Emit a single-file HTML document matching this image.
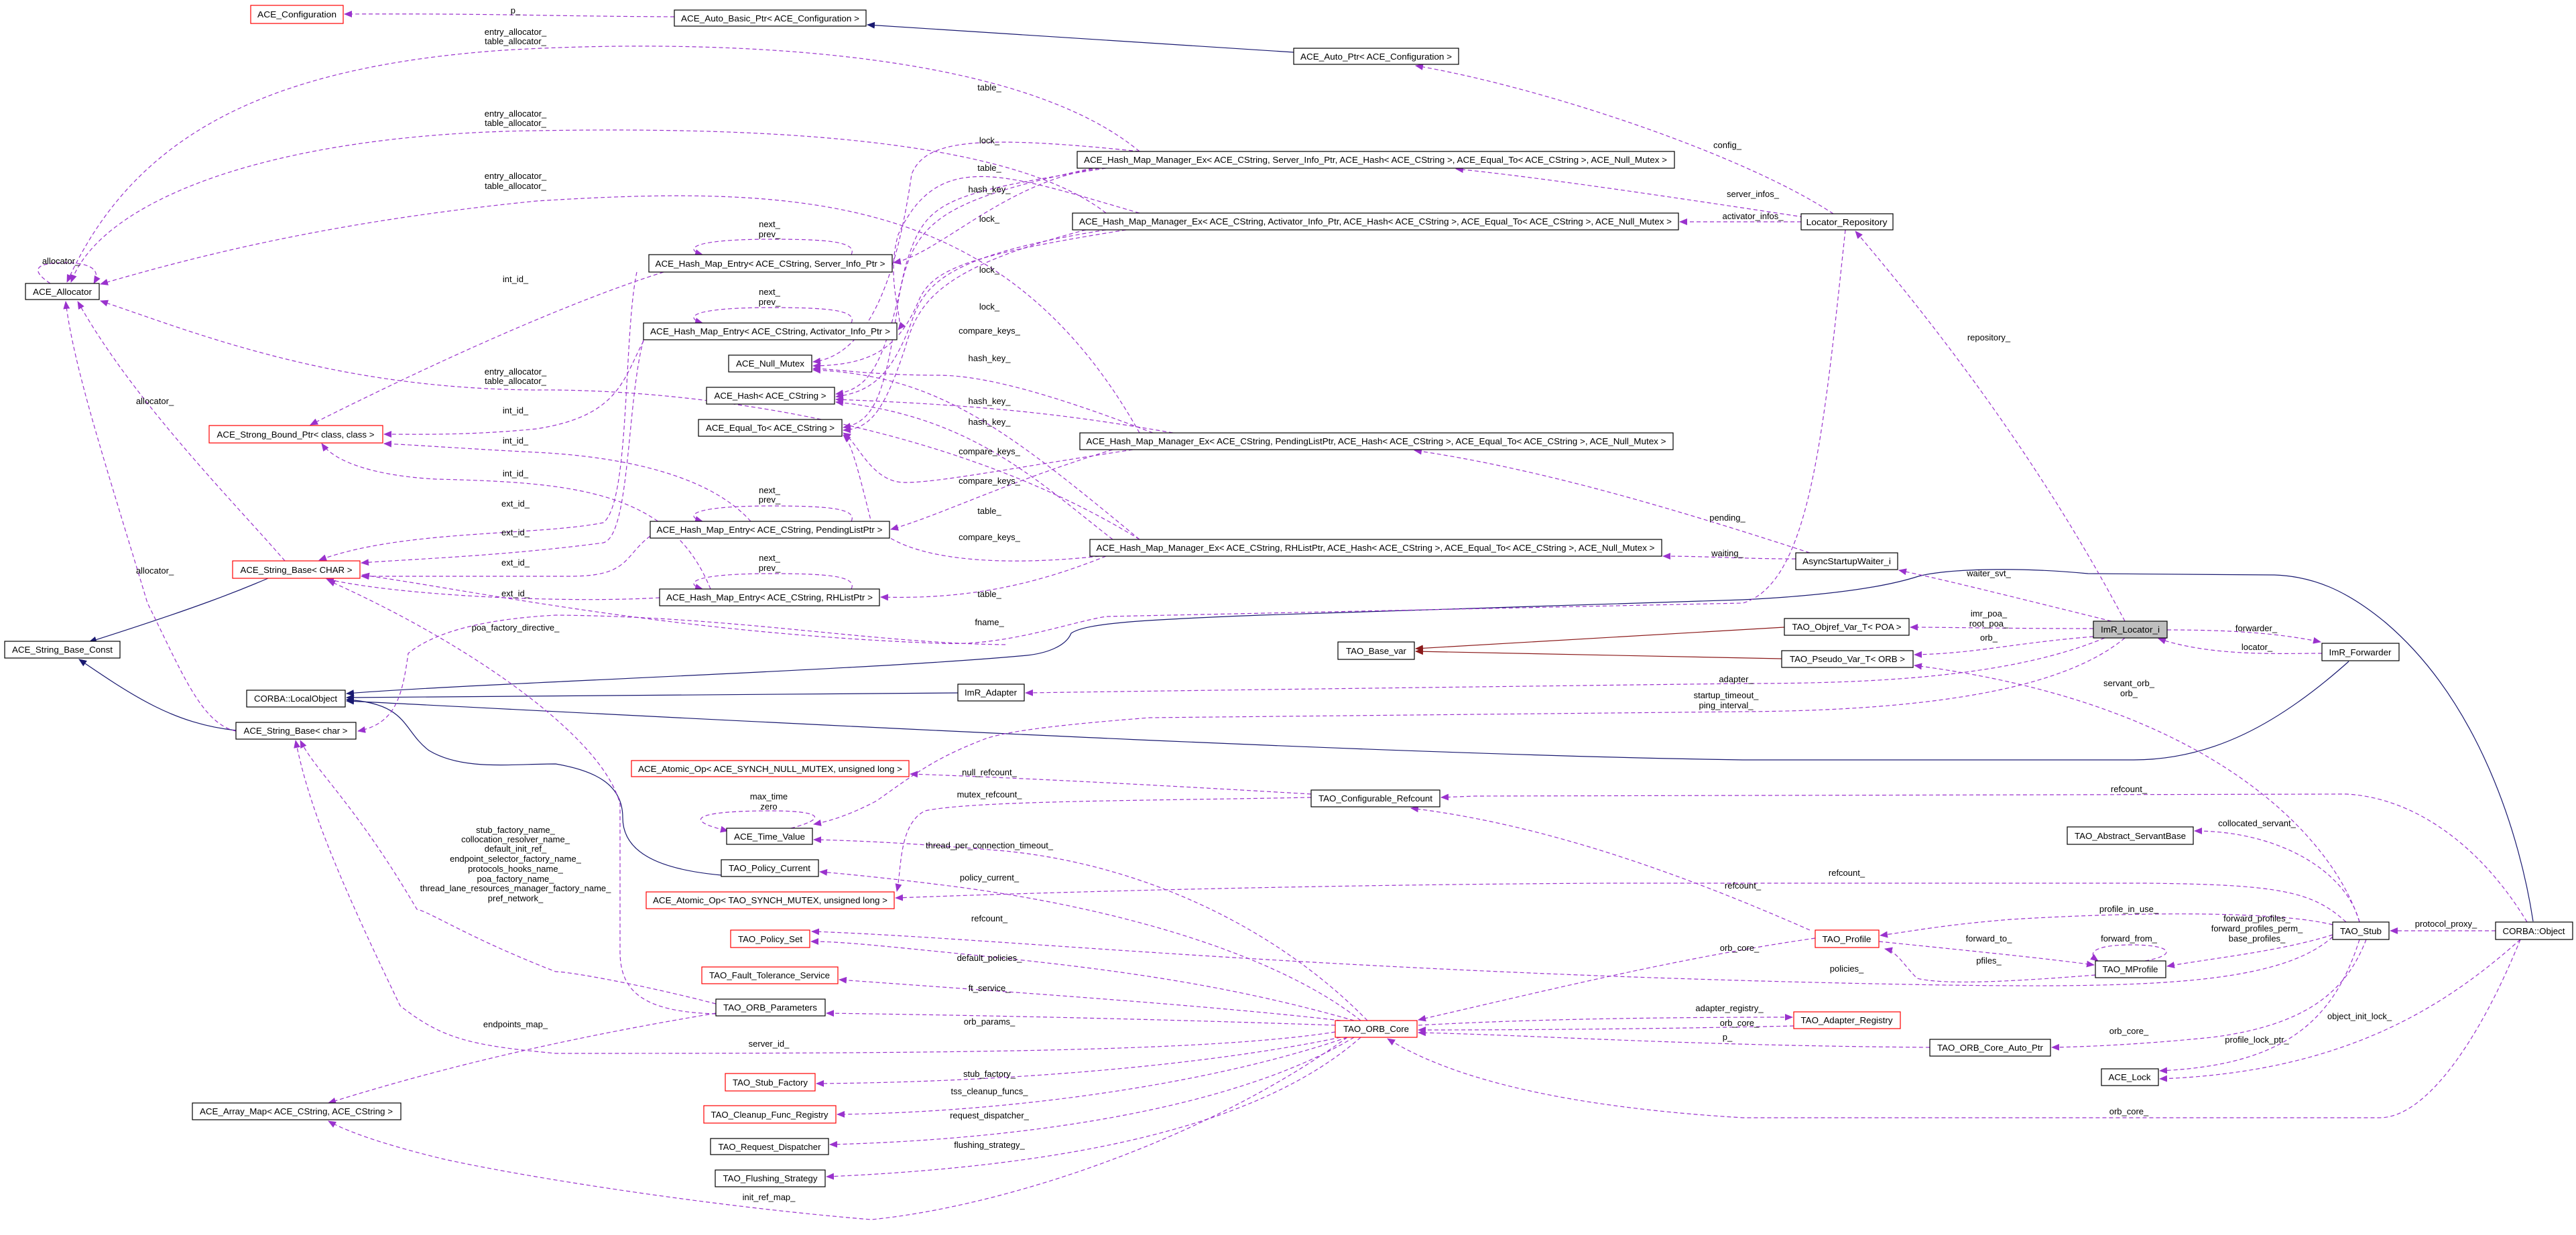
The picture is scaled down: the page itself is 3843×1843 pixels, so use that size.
<!DOCTYPE html>
<html><head><meta charset="utf-8"><style>
html,body{margin:0;padding:0;background:#fff;}
svg{display:block;}
text{font-family:"Liberation Sans",sans-serif;font-size:13px;fill:#000;}
.d{fill:none;stroke:#9a32cd;stroke-width:1.2;stroke-dasharray:6,4;marker-end:url(#p);}
.n{fill:none;stroke:#191970;stroke-width:1.2;marker-end:url(#n);}
.r{fill:none;stroke:#8b1a1a;stroke-width:1.2;marker-end:url(#r);}
.b{fill:#fff;stroke:#000;stroke-width:1.2;}
.rb{fill:#fff;stroke:#ff0000;stroke-width:1.2;}
.el{text-anchor:middle;}
</style></head><body>
<svg width="3843" height="1843" viewBox="0 0 3843 1843" xmlns="http://www.w3.org/2000/svg">
<defs>
<marker id="p" markerUnits="userSpaceOnUse" markerWidth="12" markerHeight="10" refX="11" refY="5" orient="auto"><path d="M0,0 L12,5 L0,10 z" fill="#9a32cd"/></marker>
<marker id="n" markerUnits="userSpaceOnUse" markerWidth="12" markerHeight="10" refX="11" refY="5" orient="auto"><path d="M0,0 L12,5 L0,10 z" fill="#191970"/></marker>
<marker id="r" markerUnits="userSpaceOnUse" markerWidth="12" markerHeight="10" refX="11" refY="5" orient="auto"><path d="M0,0 L12,5 L0,10 z" fill="#8b1a1a"/></marker>
</defs>

<!-- inheritance -->
<path class="n" d="M1930,78 L1294,37"/>
<path class="n" d="M400,863 C360,880 300,905 133,958"/>
<path class="n" d="M352,1090 C260,1080 200,1040 118,984"/>
<path class="n" d="M1429,1034 L517,1041"/>
<path class="n" d="M3504,987 C3400,1080 3300,1134 3183,1134 L2600,1134 C2000,1125 1000,1070 517,1046"/>
<path class="n" d="M1076,1306 C978,1297 929,1270 929,1220 C929,1170 887,1150 829,1140 C760,1140 690,1150 640,1120 C600,1090 610,1050 517,1044"/>
<path class="n" d="M3779,1375 C3760,1250 3700,1050 3560,930 C3500,880 3450,860 3393,858 L3115,856 C3000,845 2900,850 2862,860 C2800,880 2700,890 2600,895 L1880,918 C1700,925 1620,930 1598,945 C1590,965 1560,975 1532,978 C1300,1000 700,1020 517,1035"/>
<path class="r" d="M2662,936 L2112,968"/>
<path class="r" d="M2658,983 L2112,972"/>

<!-- top purple -->
<path class="d" d="M1006,25 C800,24 750,20 514,21"/>
<path class="d" d="M2735,319 C2600,230 2300,130 2112,98"/>
<path class="d" d="M2691,324 C2500,295 2300,265 2172,252"/>
<path class="d" d="M2687,331 L2506,331"/>
<path class="d" d="M2700,825 C2500,760 2300,700 2110,672"/>
<path class="d" d="M2679,834 C2600,834 2550,830 2481,830"/>
<path class="d" d="M3170,927 C3050,700 2900,500 2768,345"/>
<path class="d" d="M3150,927 C3000,890 2900,865 2833,851"/>
<path class="d" d="M2753,343 C2720,650 2700,870 2600,900 L1650,920 C1590,930 1500,965 1400,960 C1000,945 700,880 540,858"/>

<!-- allocator -->
<path class="d" d="M1700,226 C1500,60 1000,60 750,75 C400,100 200,200 100,421"/>
<path class="d" d="M1650,318 C1500,200 1100,190 800,195 C400,200 150,300 106,421"/>
<path class="d" d="M1700,646 C1500,290 1200,275 800,300 C500,330 300,380 150,424"/>
<path class="d" d="M1700,805 C1400,620 1000,580 800,582 C500,580 300,500 150,449"/>
<path class="d" d="M425,837 C350,750 200,600 116,450"/>
<path class="d" d="M352,1091 C300,1080 270,1000 220,900 C160,700 110,550 98,450"/>
<path class="d" d="M75,423 C40,400 60,392 95,392 C140,392 150,405 140,423"/>

<!-- entries self loops -->
<path class="d" d="M1270,380 C1280,360 1230,357 1150,357 C1030,357 1020,372 1048,380"/>
<path class="d" d="M1270,482 C1280,462 1230,459 1150,459 C1030,459 1020,474 1048,482"/>
<path class="d" d="M1270,778 C1280,758 1230,755 1150,755 C1030,755 1020,770 1048,778"/>
<path class="d" d="M1270,879 C1280,859 1230,856 1150,856 C1030,856 1020,871 1048,879"/>

<!-- int_id_ -->
<path class="d" d="M990,406 C850,450 650,540 463,634"/>
<path class="d" d="M965,500 C930,560 930,620 800,640 C700,650 620,648 573,648"/>
<path class="d" d="M1120,778 C1050,700 900,680 800,675 C700,670 620,664 573,662"/>
<path class="d" d="M1060,879 C1000,730 850,720 650,715 C560,710 500,690 480,662"/>

<!-- ext_id_ -->
<path class="d" d="M950,406 C930,500 940,750 900,780 C800,800 600,790 476,836"/>
<path class="d" d="M960,507 C935,600 940,800 900,810 C750,830 600,835 539,840"/>
<path class="d" d="M970,800 C930,830 940,860 850,860 L539,860"/>
<path class="d" d="M984,892 C850,900 600,890 487,864"/>

<!-- HMM internals -->
<path class="d" d="M1640,251 C1500,270 1400,380 1333,392"/>
<path class="d" d="M1700,226 C1450,200 1380,210 1360,260 C1340,400 1300,530 1213,540"/>
<path class="d" d="M1650,251 C1400,290 1380,300 1350,400 C1320,540 1300,580 1247,588"/>
<path class="d" d="M1630,251 C1400,300 1360,330 1340,450 C1320,600 1300,630 1258,638"/>
<path class="d" d="M1700,318 C1500,260 1400,220 1340,350 C1320,420 1350,480 1340,492"/>
<path class="d" d="M1680,343 C1450,380 1390,400 1370,450 C1340,520 1300,545 1213,546"/>
<path class="d" d="M1650,343 C1420,380 1380,420 1360,480 C1330,560 1300,585 1247,592"/>
<path class="d" d="M1620,343 C1400,400 1370,450 1350,520 C1320,610 1300,640 1258,642"/>
<path class="d" d="M1720,646 C1600,600 1480,560 1400,560 C1300,560 1240,550 1213,550"/>
<path class="d" d="M1750,646 C1600,620 1480,605 1247,596"/>
<path class="d" d="M1690,671 C1500,700 1400,720 1350,720 C1300,720 1280,660 1258,646"/>
<path class="d" d="M1660,671 C1500,720 1400,770 1329,790"/>
<path class="d" d="M1700,805 C1500,640 1400,560 1213,552"/>
<path class="d" d="M1660,805 C1550,720 1450,620 1247,600"/>
<path class="d" d="M1640,830 C1500,845 1350,840 1300,780 C1280,700 1270,660 1258,649"/>
<path class="d" d="M1650,830 C1550,870 1450,895 1314,891"/>

<!-- poa_factory / string base char -->
<path class="d" d="M1500,962 C1300,960 1100,920 829,918 C700,925 640,950 609,975 C600,1040 590,1080 534,1091"/>
<path class="d" d="M1068,1513 C960,1510 925,1480 925,1420 L925,1200 C900,1100 700,960 489,866"/>
<path class="d" d="M1068,1498 C960,1470 850,1450 829,1450 C700,1400 640,1360 622,1357 C530,1200 470,1150 448,1105"/>
<path class="d" d="M1992,1540 C1800,1570 1400,1572 829,1572 C700,1560 660,1550 597,1501 C500,1300 460,1200 441,1105"/>
<path class="d" d="M1068,1512 C900,1540 700,1580 490,1646"/>
<path class="d" d="M2010,1548 C1800,1700 1500,1800 1300,1820 C1078,1802 800,1760 663,1730 C580,1710 520,1690 490,1673"/>

<!-- ORB_Core fan -->
<path class="d" d="M2040,1523 C1900,1380 1700,1290 1500,1270 C1380,1260 1300,1255 1214,1253"/>
<path class="d" d="M2030,1523 C1900,1420 1650,1350 1400,1320 C1320,1310 1260,1304 1223,1301"/>
<path class="d" d="M2020,1523 C1800,1460 1600,1440 1400,1420 C1300,1410 1250,1405 1210,1405"/>
<path class="d" d="M2000,1523 C1800,1500 1500,1480 1252,1462"/>
<path class="d" d="M1992,1530 C1700,1520 1450,1515 1233,1512"/>
<path class="d" d="M2000,1548 C1800,1590 1500,1615 1218,1617"/>
<path class="d" d="M2010,1548 C1800,1620 1500,1660 1249,1663"/>
<path class="d" d="M2020,1548 C1850,1650 1550,1700 1238,1708"/>
<path class="d" d="M2030,1548 C1880,1680 1600,1740 1233,1756"/>

<!-- refcount -->
<path class="d" d="M1956,1185 C1700,1170 1500,1160 1358,1155"/>
<path class="d" d="M1956,1190 C1700,1195 1450,1195 1380,1210 C1340,1230 1345,1300 1338,1330"/>
<path class="d" d="M2700,1388 C2500,1300 2300,1230 2105,1206"/>
<path class="d" d="M3770,1376 C3700,1260 3600,1190 3500,1185 L2200,1188 L2150,1190"/>
<path class="d" d="M3500,1376 C3450,1330 3400,1320 3200,1318 L2400,1318 C2000,1320 1600,1330 1336,1340"/>
<path class="d" d="M3480,1398 C3400,1470 3200,1474 2900,1470 C2000,1455 1500,1400 1211,1390"/>
<path class="d" d="M2708,1400 C2500,1430 2300,1480 2116,1522"/>
<path class="d" d="M2676,1531 C2500,1535 2300,1537 2116,1537"/>
<path class="d" d="M2116,1530 C2300,1520 2500,1518 2674,1518"/>
<path class="d" d="M2879,1563 C2500,1560 2300,1545 2116,1541"/>
<path class="d" d="M3760,1402 C3700,1550 3620,1668 3550,1668 L2600,1668 C2300,1650 2150,1600 2070,1550"/>

<!-- stub area -->
<path class="d" d="M3480,1380 C3400,1360 3200,1360 3000,1372 C2900,1380 2850,1390 2805,1396"/>
<path class="d" d="M3480,1395 C3400,1420 3300,1430 3233,1442"/>
<path class="d" d="M2803,1405 C2950,1420 3050,1430 3124,1440"/>
<path class="d" d="M3126,1455 C3000,1465 2900,1470 2860,1460 C2840,1440 2830,1420 2812,1416"/>
<path class="d" d="M3200,1434 C3250,1425 3240,1410 3180,1410 C3130,1410 3110,1420 3130,1434"/>
<path class="d" d="M3520,1376 C3500,1300 3400,1240 3274,1240"/>
<path class="d" d="M3520,1376 C3480,1250 3300,1050 2856,993"/>
<path class="d" d="M3520,1402 C3480,1530 3400,1590 3222,1598"/>
<path class="d" d="M3530,1402 C3500,1480 3440,1530 3300,1548 C3200,1558 3120,1562 3061,1563"/>
<path class="d" d="M3760,1402 C3650,1500 3500,1600 3222,1610"/>
<path class="d" d="M3723,1389 L3566,1389"/>

<!-- locator -->
<path class="d" d="M3123,938 C3000,938 2900,936 2850,936"/>
<path class="d" d="M3123,950 C3000,960 2950,975 2856,977"/>
<path class="d" d="M3140,952 C3000,1010 2800,1020 2600,1020 C2200,1025 1800,1030 1530,1034"/>
<path class="d" d="M3170,952 C3100,1010 2950,1060 2600,1062 L1715,1071 C1600,1080 1500,1090 1466,1104 C1400,1130 1375,1147 1308,1195 C1270,1215 1240,1225 1214,1230"/>
<path class="d" d="M3233,940 C3330,940 3400,945 3462,958"/>
<path class="d" d="M3464,975 C3400,975 3300,980 3220,953"/>
<path class="d" d="M1180,1236 C1240,1220 1220,1210 1150,1210 C1030,1210 1020,1225 1086,1240"/>

<!-- nodes -->
<g>
<rect class="rb" x="374" y="8" width="138" height="27"/>
<rect class="b" x="1006" y="15" width="286" height="24"/>
<rect class="b" x="1930" y="72" width="246" height="24"/>
<rect class="b" x="1607" y="226" width="891" height="25"/>
<rect class="b" x="1600" y="318" width="904" height="25"/>
<rect class="b" x="1611" y="646" width="885" height="25"/>
<rect class="b" x="1626" y="805" width="853" height="25"/>
<rect class="b" x="2687" y="319" width="137" height="24"/>
<rect class="b" x="2679" y="825" width="152" height="25"/>
<rect class="b" x="38" y="423" width="110" height="24"/>
<rect class="b" x="968" y="380" width="363" height="26"/>
<rect class="b" x="960" y="482" width="378" height="25"/>
<rect class="b" x="1087" y="530" width="124" height="25"/>
<rect class="b" x="1054" y="578" width="191" height="25"/>
<rect class="b" x="1042" y="626" width="214" height="25"/>
<rect class="rb" x="312" y="635" width="259" height="26"/>
<rect class="b" x="970" y="778" width="357" height="25"/>
<rect class="b" x="984" y="879" width="328" height="25"/>
<rect class="rb" x="347" y="837" width="190" height="26"/>
<rect class="b" x="7" y="957" width="172" height="25"/>
<rect class="b" x="368" y="1030" width="147" height="25"/>
<rect class="b" x="352" y="1078" width="179" height="25"/>
<rect class="rb" x="942" y="1135" width="414" height="24"/>
<rect class="b" x="1084" y="1236" width="128" height="24"/>
<rect class="b" x="1076" y="1283" width="145" height="25"/>
<rect class="rb" x="964" y="1331" width="370" height="25"/>
<rect class="rb" x="1090" y="1388" width="118" height="26"/>
<rect class="rb" x="1047" y="1443" width="203" height="25"/>
<rect class="b" x="1068" y="1491" width="163" height="25"/>
<rect class="rb" x="1082" y="1602" width="134" height="26"/>
<rect class="rb" x="1050" y="1650" width="197" height="26"/>
<rect class="b" x="1060" y="1699" width="176" height="24"/>
<rect class="b" x="1067" y="1746" width="164" height="25"/>
<rect class="b" x="287" y="1646" width="311" height="25"/>
<rect class="b" x="1996" y="958" width="114" height="26"/>
<rect class="b" x="1429" y="1021" width="99" height="25"/>
<rect class="b" x="1956" y="1179" width="192" height="25"/>
<rect class="rb" x="1992" y="1523" width="122" height="25"/>
<rect class="b" x="2662" y="923" width="186" height="25"/>
<rect class="b" x="2658" y="971" width="196" height="25"/>
<rect x="3123" y="927" width="110" height="25" fill="#bfbfbf" stroke="#000" stroke-width="1.2"/>
<rect class="b" x="3464" y="960" width="115" height="26"/>
<rect class="b" x="3084" y="1234" width="188" height="26"/>
<rect class="rb" x="2708" y="1388" width="95" height="26"/>
<rect class="b" x="3126" y="1434" width="105" height="25"/>
<rect class="b" x="3480" y="1376" width="84" height="26"/>
<rect class="b" x="3723" y="1376" width="115" height="26"/>
<rect class="rb" x="2676" y="1510" width="159" height="25"/>
<rect class="b" x="2879" y="1551" width="180" height="25"/>
<rect class="b" x="3135" y="1595" width="85" height="25"/>
</g>
<g class="el">
<text x="443" y="26" textLength="118" lengthAdjust="spacingAndGlyphs">ACE_Configuration</text>
<text x="1149" y="32" textLength="266" lengthAdjust="spacingAndGlyphs">ACE_Auto_Basic_Ptr&lt; ACE_Configuration &gt;</text>
<text x="2053" y="89" textLength="226" lengthAdjust="spacingAndGlyphs">ACE_Auto_Ptr&lt; ACE_Configuration &gt;</text>
<text x="2052" y="243" textLength="870" lengthAdjust="spacingAndGlyphs">ACE_Hash_Map_Manager_Ex&lt; ACE_CString, Server_Info_Ptr, ACE_Hash&lt; ACE_CString &gt;, ACE_Equal_To&lt; ACE_CString &gt;, ACE_Null_Mutex &gt;</text>
<text x="2052" y="335" textLength="884" lengthAdjust="spacingAndGlyphs">ACE_Hash_Map_Manager_Ex&lt; ACE_CString, Activator_Info_Ptr, ACE_Hash&lt; ACE_CString &gt;, ACE_Equal_To&lt; ACE_CString &gt;, ACE_Null_Mutex &gt;</text>
<text x="2053" y="663" textLength="865" lengthAdjust="spacingAndGlyphs">ACE_Hash_Map_Manager_Ex&lt; ACE_CString, PendingListPtr, ACE_Hash&lt; ACE_CString &gt;, ACE_Equal_To&lt; ACE_CString &gt;, ACE_Null_Mutex &gt;</text>
<text x="2052" y="822" textLength="833" lengthAdjust="spacingAndGlyphs">ACE_Hash_Map_Manager_Ex&lt; ACE_CString, RHListPtr, ACE_Hash&lt; ACE_CString &gt;, ACE_Equal_To&lt; ACE_CString &gt;, ACE_Null_Mutex &gt;</text>
<text x="2755" y="336" textLength="121" lengthAdjust="spacingAndGlyphs">Locator_Repository</text>
<text x="2755" y="842" textLength="132" lengthAdjust="spacingAndGlyphs">AsyncStartupWaiter_i</text>
<text x="93" y="440" textLength="88" lengthAdjust="spacingAndGlyphs">ACE_Allocator</text>
<text x="1149" y="398" textLength="343" lengthAdjust="spacingAndGlyphs">ACE_Hash_Map_Entry&lt; ACE_CString, Server_Info_Ptr &gt;</text>
<text x="1149" y="499" textLength="358" lengthAdjust="spacingAndGlyphs">ACE_Hash_Map_Entry&lt; ACE_CString, Activator_Info_Ptr &gt;</text>
<text x="1149" y="547" textLength="102" lengthAdjust="spacingAndGlyphs">ACE_Null_Mutex</text>
<text x="1149" y="595" textLength="167" lengthAdjust="spacingAndGlyphs">ACE_Hash&lt; ACE_CString &gt;</text>
<text x="1149" y="643" textLength="192" lengthAdjust="spacingAndGlyphs">ACE_Equal_To&lt; ACE_CString &gt;</text>
<text x="441" y="653" textLength="235" lengthAdjust="spacingAndGlyphs">ACE_Strong_Bound_Ptr&lt; class, class &gt;</text>
<text x="1148" y="795" textLength="337" lengthAdjust="spacingAndGlyphs">ACE_Hash_Map_Entry&lt; ACE_CString, PendingListPtr &gt;</text>
<text x="1148" y="896" textLength="308" lengthAdjust="spacingAndGlyphs">ACE_Hash_Map_Entry&lt; ACE_CString, RHListPtr &gt;</text>
<text x="442" y="855" textLength="167" lengthAdjust="spacingAndGlyphs">ACE_String_Base&lt; CHAR &gt;</text>
<text x="93" y="974" textLength="150" lengthAdjust="spacingAndGlyphs">ACE_String_Base_Const</text>
<text x="441" y="1047" textLength="124" lengthAdjust="spacingAndGlyphs">CORBA::LocalObject</text>
<text x="441" y="1095" textLength="155" lengthAdjust="spacingAndGlyphs">ACE_String_Base&lt; char &gt;</text>
<text x="1149" y="1152" textLength="394" lengthAdjust="spacingAndGlyphs">ACE_Atomic_Op&lt; ACE_SYNCH_NULL_MUTEX, unsigned long &gt;</text>
<text x="1148" y="1253" textLength="106" lengthAdjust="spacingAndGlyphs">ACE_Time_Value</text>
<text x="1148" y="1300" textLength="122" lengthAdjust="spacingAndGlyphs">TAO_Policy_Current</text>
<text x="1149" y="1348" textLength="350" lengthAdjust="spacingAndGlyphs">ACE_Atomic_Op&lt; TAO_SYNCH_MUTEX, unsigned long &gt;</text>
<text x="1149" y="1406" textLength="96" lengthAdjust="spacingAndGlyphs">TAO_Policy_Set</text>
<text x="1148" y="1460" textLength="180" lengthAdjust="spacingAndGlyphs">TAO_Fault_Tolerance_Service</text>
<text x="1149" y="1508" textLength="140" lengthAdjust="spacingAndGlyphs">TAO_ORB_Parameters</text>
<text x="1149" y="1620" textLength="112" lengthAdjust="spacingAndGlyphs">TAO_Stub_Factory</text>
<text x="1148" y="1668" textLength="175" lengthAdjust="spacingAndGlyphs">TAO_Cleanup_Func_Registry</text>
<text x="1148" y="1716" textLength="153" lengthAdjust="spacingAndGlyphs">TAO_Request_Dispatcher</text>
<text x="1149" y="1763" textLength="141" lengthAdjust="spacingAndGlyphs">TAO_Flushing_Strategy</text>
<text x="442" y="1663" textLength="288" lengthAdjust="spacingAndGlyphs">ACE_Array_Map&lt; ACE_CString, ACE_CString &gt;</text>
<text x="2053" y="976" textLength="90" lengthAdjust="spacingAndGlyphs">TAO_Base_var</text>
<text x="1478" y="1038" textLength="78" lengthAdjust="spacingAndGlyphs">ImR_Adapter</text>
<text x="2052" y="1196" textLength="170" lengthAdjust="spacingAndGlyphs">TAO_Configurable_Refcount</text>
<text x="2053" y="1540" textLength="98" lengthAdjust="spacingAndGlyphs">TAO_ORB_Core</text>
<text x="2755" y="940" textLength="163" lengthAdjust="spacingAndGlyphs">TAO_Objref_Var_T&lt; POA &gt;</text>
<text x="2756" y="988" textLength="172" lengthAdjust="spacingAndGlyphs">TAO_Pseudo_Var_T&lt; ORB &gt;</text>
<text x="3178" y="944" textLength="88" lengthAdjust="spacingAndGlyphs">ImR_Locator_i</text>
<text x="3521" y="978" textLength="93" lengthAdjust="spacingAndGlyphs">ImR_Forwarder</text>
<text x="3178" y="1252" textLength="166" lengthAdjust="spacingAndGlyphs">TAO_Abstract_ServantBase</text>
<text x="2755" y="1406" textLength="73" lengthAdjust="spacingAndGlyphs">TAO_Profile</text>
<text x="3178" y="1451" textLength="83" lengthAdjust="spacingAndGlyphs">TAO_MProfile</text>
<text x="3522" y="1394" textLength="62" lengthAdjust="spacingAndGlyphs">TAO_Stub</text>
<text x="3780" y="1394" textLength="93" lengthAdjust="spacingAndGlyphs">CORBA::Object</text>
<text x="2755" y="1527" textLength="137" lengthAdjust="spacingAndGlyphs">TAO_Adapter_Registry</text>
<text x="2969" y="1568" textLength="158" lengthAdjust="spacingAndGlyphs">TAO_ORB_Core_Auto_Ptr</text>
<text x="3177" y="1612" textLength="63" lengthAdjust="spacingAndGlyphs">ACE_Lock</text>
</g>

<!-- edge labels -->
<g class="el">
<text x="769" y="20">p_</text>
<text x="769" y="52">entry_allocator_</text><text x="769" y="66">table_allocator_</text>
<text x="769" y="174">entry_allocator_</text><text x="769" y="188">table_allocator_</text>
<text x="769" y="267">entry_allocator_</text><text x="769" y="282">table_allocator_</text>
<text x="769" y="559">entry_allocator_</text><text x="769" y="573">table_allocator_</text>
<text x="91" y="394">allocator_</text>
<text x="231" y="603">allocator_</text>
<text x="231" y="856">allocator_</text>
<text x="1148" y="339">next_</text><text x="1148" y="354">prev_</text>
<text x="1148" y="440">next_</text><text x="1148" y="455">prev_</text>
<text x="1148" y="736">next_</text><text x="1148" y="750">prev_</text>
<text x="1148" y="837">next_</text><text x="1148" y="852">prev_</text>
<text x="769" y="421">int_id_</text><text x="769" y="617">int_id_</text><text x="769" y="662">int_id_</text><text x="769" y="711">int_id_</text>
<text x="769" y="756">ext_id_</text><text x="769" y="799">ext_id_</text><text x="769" y="844">ext_id_</text><text x="769" y="890">ext_id_</text>
<text x="1476" y="135">table_</text>
<text x="1476" y="214">lock_</text>
<text x="1476" y="255">table_</text>
<text x="1476" y="287">hash_key_</text>
<text x="1476" y="331">lock_</text>
<text x="1476" y="407">lock_</text>
<text x="1476" y="462">lock_</text>
<text x="1476" y="498">compare_keys_</text>
<text x="1476" y="539">hash_key_</text>
<text x="1476" y="603">hash_key_</text>
<text x="1476" y="634">hash_key_</text>
<text x="1476" y="678">compare_keys_</text>
<text x="1476" y="722">compare_keys_</text>
<text x="1476" y="767">table_</text>
<text x="1476" y="806">compare_keys_</text>
<text x="1476" y="891">table_</text>
<text x="2577" y="221">config_</text>
<text x="2615" y="294">server_infos_</text>
<text x="2615" y="327">activator_infos_</text>
<text x="2577" y="777">pending_</text>
<text x="2577" y="830">waiting_</text>
<text x="2967" y="508">repository_</text>
<text x="2967" y="860">waiter_svt_</text>
<text x="2967" y="920">imr_poa_</text><text x="2967" y="935">root_poa_</text>
<text x="2967" y="956">orb_</text>
<text x="3366" y="942">forwarder_</text>
<text x="3367" y="970">locator_</text>
<text x="3176" y="1024">servant_orb_</text><text x="3176" y="1039">orb_</text>
<text x="769" y="941">poa_factory_directive_</text>
<text x="769" y="1243">stub_factory_name_</text>
<text x="769" y="1257">collocation_resolver_name_</text>
<text x="769" y="1271">default_init_ref_</text>
<text x="769" y="1286">endpoint_selector_factory_name_</text>
<text x="769" y="1301">protocols_hooks_name_</text>
<text x="769" y="1316">poa_factory_name_</text>
<text x="769" y="1330">thread_lane_resources_manager_factory_name_</text>
<text x="769" y="1345">pref_network_</text>
<text x="1147" y="1193">max_time</text><text x="1147" y="1208">zero</text>
<text x="769" y="1533">endpoints_map_</text>
<text x="1147" y="1562">server_id_</text>
<text x="1147" y="1791">init_ref_map_</text>
<text x="1476" y="933">fname_</text>
<text x="1476" y="1157">null_refcount_</text>
<text x="1476" y="1190">mutex_refcount_</text>
<text x="1476" y="1266">thread_per_connection_timeout_</text>
<text x="1476" y="1314">policy_current_</text>
<text x="1476" y="1375">refcount_</text>
<text x="1476" y="1434">default_policies_</text>
<text x="1476" y="1479">ft_service_</text>
<text x="1476" y="1529">orb_params_</text>
<text x="1476" y="1607">stub_factory_</text>
<text x="1476" y="1633">tss_cleanup_funcs_</text>
<text x="1476" y="1669">request_dispatcher_</text>
<text x="1476" y="1713">flushing_strategy_</text>
<text x="2590" y="1018">adapter_</text>
<text x="2575" y="1042">startup_timeout_</text><text x="2575" y="1057">ping_interval_</text>
<text x="2600" y="1326">refcount_</text>
<text x="2595" y="1419">orb_core_</text>
<text x="2580" y="1509">adapter_registry_</text>
<text x="2595" y="1531">orb_core_</text>
<text x="2577" y="1552">p_</text>
<text x="3176" y="1182">refcount_</text>
<text x="3367" y="1233">collocated_servant_</text>
<text x="2755" y="1307">refcount_</text>
<text x="3176" y="1361">profile_in_use_</text>
<text x="3367" y="1375">forward_profiles_</text><text x="3367" y="1390">forward_profiles_perm_</text><text x="3367" y="1405">base_profiles_</text>
<text x="2967" y="1405">forward_to_</text>
<text x="3176" y="1405">forward_from_</text>
<text x="2967" y="1438">pfiles_</text>
<text x="2755" y="1450">policies_</text>
<text x="3649" y="1383">protocol_proxy_</text>
<text x="3520" y="1521">object_init_lock_</text>
<text x="3176" y="1543">orb_core_</text>
<text x="3367" y="1556">profile_lock_ptr_</text>
<text x="3176" y="1663">orb_core_</text>
</g>
</svg>
</body></html>
